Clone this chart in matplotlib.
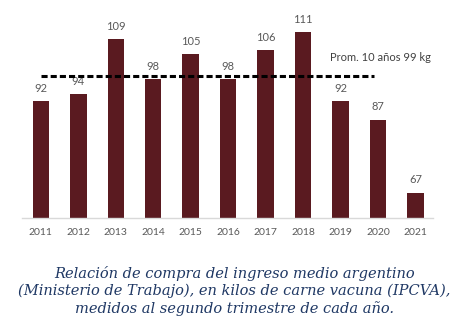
import matplotlib
matplotlib.use("Agg")
import matplotlib.pyplot as plt

# Data
years = ["2011", "2012", "2013", "2014", "2015", "2016", "2017", "2018", "2019", "2020", "2021"]
kilos = [92, 94, 109, 98, 105, 98, 106, 111, 92, 87, 67]
promedio = 99
promedio_label = "Prom. 10 años 99 kg"
caption = ("Relación de compra del ingreso medio argentino\n"
           "(Ministerio de Trabajo), en kilos de carne vacuna (IPCVA),\n"
           "medidos al segundo trimestre de cada año.")

BAR_COLOR = "#5a1a20"
TEXT_GREY = "#595959"
CAPTION_BLUE = "#1f3864"

fig = plt.figure(figsize=(4.69, 3.33), dpi=100)
ax = fig.add_axes([0.047, 0.345, 0.876, 0.603])

x = list(range(len(years)))
ax.bar(x, kilos, width=0.44, bottom=0, color=BAR_COLOR, zorder=2)

# value labels on top of bars
for xi, v in zip(x, kilos):
    ax.text(xi, v + 2.0, str(v), ha="center", va="bottom",
            fontsize=8, family="Lato", color=TEXT_GREY)

# average dashed line
ax.plot([0, 8.9], [promedio, promedio], color="black", linestyle=(0, (2.0, 1.0)),
        linewidth=2.2, zorder=3)
ax.text(7.72, 104.0, promedio_label, ha="left", va="center",
        fontsize=8, family="Lato", color="#404040")

ax.set_ylim(60, 115)
ax.set_xlim(-0.5, 10.46)
ax.set_yticks([])
ax.set_xticks(x)
ax.set_xticklabels(years, family="Lato", fontsize=7.5, color=TEXT_GREY)
ax.tick_params(axis="x", length=0, pad=7)
ax.spines[["top", "right", "left"]].set_visible(False)
ax.spines["bottom"].set_color("#d9d9d9")
ax.spines["bottom"].set_linewidth(1)

# caption under the chart
fig.text(0.5, 0.127, caption, ha="center", va="center", fontsize=10.5,
         family="DejaVu Serif", style="italic", color=CAPTION_BLUE,
         linespacing=1.25)

fig.savefig("out.png", dpi=100, facecolor="white")
